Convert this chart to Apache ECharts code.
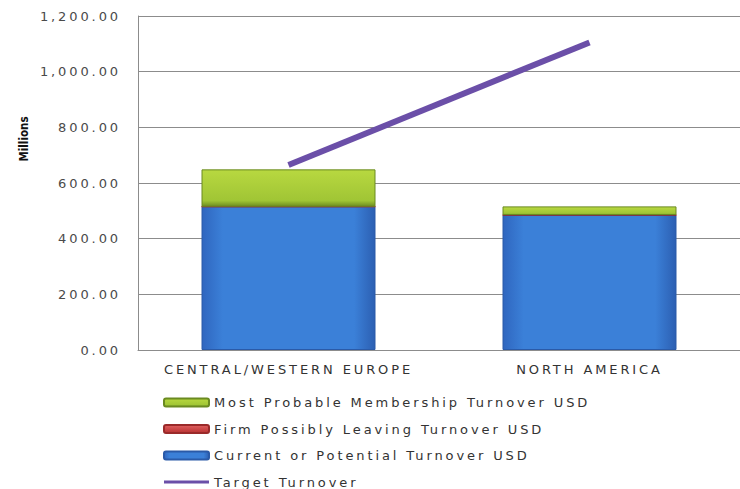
<!DOCTYPE html>
<html>
<head>
<meta charset="utf-8">
<script src="https://cdn.jsdelivr.net/npm/echarts@6/dist/echarts.min.js"></script>
<style>
  html, body { margin: 0; padding: 0; background: #ffffff; }
  #chart { width: 740px; height: 489px; }
  #chart svg text { letter-spacing: 2.9px; }
  #chart svg text.tight { letter-spacing: 0; }
</style>
</head>
<body>
<div id="chart"></div>
<script>
// Turnover by region, in millions of USD
const regions = ['CENTRAL/WESTERN EUROPE', 'NORTH AMERICA'];
const currentTurnover = [515, 485];
const firmLeavingTurnover = [0, 0];
const probableMembershipTurnover = [134, 31];
const targetTurnover = [665, 1105];
const yTicks = { min: 0, max: 1200, interval: 200 };

const FONT = 'DejaVu Sans';

const chart = echarts.init(document.getElementById('chart'), null, { renderer: 'svg' });

const blueFill = new echarts.graphic.LinearGradient(0, 0, 1, 0, [
  { offset: 0, color: '#2f66bf' },
  { offset: 0.12, color: '#3b80d8' },
  { offset: 0.88, color: '#3b80d8' },
  { offset: 1, color: '#2c5fb2' }
]);
const greenFill = new echarts.graphic.LinearGradient(0, 0, 0, 1, [
  { offset: 0, color: '#b8d840' },
  { offset: 0.85, color: '#a0c535' },
  { offset: 1, color: '#6f8f22' }
]);
const redFill = new echarts.graphic.LinearGradient(0, 0, 0, 1, [
  { offset: 0, color: '#e06060' },
  { offset: 1, color: '#b83232' }
]);

// thin horizontal band inside a 45x8 box, used as the line-series legend key
const lineKey = 'path://M0,0 M45,8 M0,2.5 L45,2.5 L45,5.5 L0,5.5 Z';

chart.setOption({
  animation: false,
  backgroundColor: '#ffffff',
  grid: { left: 138, right: 0, top: 16, bottom: 139 },
  xAxis: {
    type: 'category',
    data: regions,
    axisTick: { show: false },
    axisLine: { lineStyle: { color: '#8c8c8c', width: 1 } },
    axisLabel: { color: '#333333', fontFamily: FONT, fontSize: 13, margin: 13 }
  },
  yAxis: {
    type: 'value',
    min: yTicks.min,
    max: yTicks.max,
    interval: yTicks.interval,
    axisLine: { show: true, lineStyle: { color: '#8c8c8c', width: 1 } },
    axisTick: { show: false },
    splitLine: { lineStyle: { color: '#8c8c8c', width: 1 } },
    axisLabel: {
      color: '#4a4a4a', fontFamily: FONT, fontSize: 13, margin: 17,
      formatter: v => v.toLocaleString('en-US', { minimumFractionDigits: 2, maximumFractionDigits: 2 })
    }
  },
  graphic: [{
    type: 'text',
    x: 24, y: 139,
    rotation: Math.PI / 2,
    style: {
      text: 'Millions', fill: '#111111',
      font: 'bold 11.5px "Liberation Sans Narrow", "DejaVu Sans Condensed", sans-serif',
      align: 'center', verticalAlign: 'middle'
    }
  }],
  legend: {
    orient: 'vertical',
    left: 158, top: 396,
    padding: [0, 5],
    itemWidth: 45, itemHeight: 8, itemGap: 13.5,
    textStyle: { color: '#333333', fontFamily: FONT, fontSize: 13 },
    data: [
      { name: 'Most Probable Membership Turnover USD', icon: 'roundRect' },
      { name: 'Firm Possibly Leaving Turnover USD', icon: 'roundRect' },
      { name: 'Current or Potential Turnover USD', icon: 'roundRect' },
      { name: 'Target Turnover', icon: lineKey }
    ]
  },
  series: [
    {
      name: 'Current or Potential Turnover USD',
      type: 'bar', stack: 'turnover', barWidth: 174,
      data: currentTurnover,
      itemStyle: { color: blueFill, borderColor: '#2a5aa8', borderWidth: 1 }
    },
    {
      name: 'Firm Possibly Leaving Turnover USD',
      type: 'bar', stack: 'turnover', barWidth: 174,
      data: firmLeavingTurnover,
      itemStyle: { color: redFill, borderColor: '#9a2a2a', borderWidth: 1 }
    },
    {
      name: 'Most Probable Membership Turnover USD',
      type: 'bar', stack: 'turnover', barWidth: 174,
      data: probableMembershipTurnover,
      itemStyle: { color: greenFill, borderColor: '#6a8a20', borderWidth: 1 }
    },
    {
      name: 'Target Turnover',
      type: 'line',
      data: targetTurnover,
      symbol: 'none',
      lineStyle: { color: '#6b4fa8', width: 6 },
      itemStyle: { color: '#6b4fa8' },
      z: 5
    }
  ]
});

// The rotated axis caption keeps its natural spacing
document.querySelectorAll('#chart svg text').forEach(t => {
  if (t.textContent === 'Millions') t.classList.add('tight');
});
</script>
</body>
</html>
